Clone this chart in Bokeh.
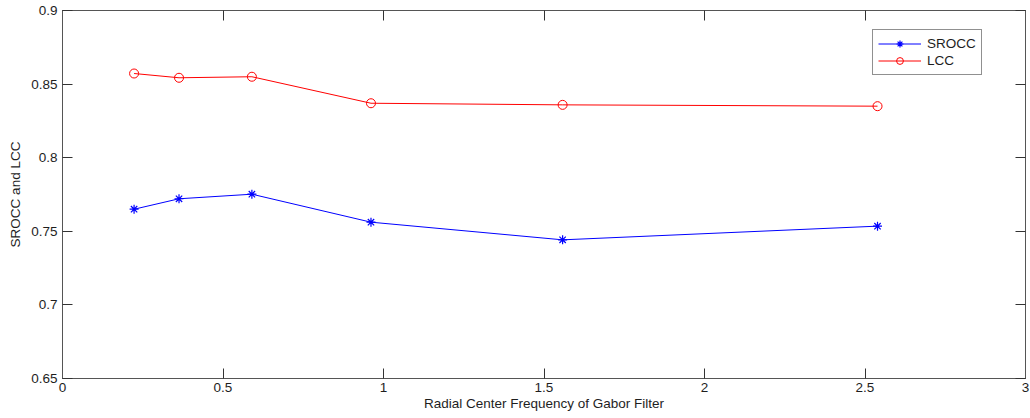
from bokeh.plotting import figure
from bokeh.models import Range1d, LinearAxis, FixedTicker, CustomJSTickFormatter, Legend, LegendItem
from bokeh.embed import file_html
from bokeh.resources import INLINE

# ---- data ----
freq = [0.223, 0.363, 0.590, 0.961, 1.558, 2.539]
srocc = [0.7650, 0.7721, 0.7752, 0.7562, 0.7442, 0.7535]
lcc = [0.8572, 0.8543, 0.8550, 0.8370, 0.8359, 0.8350]

x_ticks = [0, 0.5, 1, 1.5, 2, 2.5, 3]
x_tick_labels = ["0", "0.5", "1", "1.5", "2", "2.5", "3"]
y_ticks = [0.65, 0.7, 0.75, 0.8, 0.85, 0.9]
y_tick_labels = ["0.65", "0.7", "0.75", "0.8", "0.85", "0.9"]

FONT = "Liberation Sans"
FS = "13.5px"
TXT = "#1e1e1e"
AX = "#555555"

p = figure(width=1030, height=418, output_backend="svg", toolbar_location=None,
           x_range=Range1d(0, 3), y_range=Range1d(0.65, 0.9),
           min_border_left=62, min_border_right=5, min_border_top=10, min_border_bottom=40,
           background_fill_color="white", border_fill_color="white")
p.grid.visible = False
p.outline_line_color = AX
p.outline_line_width = 1


def style_axis(ax, labels=True):
    ax.major_tick_in = 10
    ax.major_tick_out = 0
    ax.minor_tick_line_color = None
    ax.axis_line_color = AX
    ax.major_tick_line_color = "#333333"
    ax.major_label_text_font = FONT
    ax.major_label_text_font_size = FS
    ax.major_label_text_color = TXT
    ax.axis_label_text_font = FONT
    ax.axis_label_text_font_size = FS
    ax.axis_label_text_font_style = "normal"
    ax.axis_label_text_color = TXT
    if not labels:
        ax.formatter = CustomJSTickFormatter(code="return ''")
        ax.major_label_standoff = 0


xa = p.xaxis[0]
xa.ticker = FixedTicker(ticks=x_ticks)
xa.major_label_overrides = {t: s for t, s in zip(x_ticks, x_tick_labels)}
xa.axis_label = "Radial Center Frequency of Gabor Filter"
style_axis(xa)
xa.major_label_standoff = 4
xa.axis_label_standoff = 1

ya = p.yaxis[0]
ya.ticker = FixedTicker(ticks=y_ticks)
ya.major_label_overrides = {t: s for t, s in zip(y_ticks, y_tick_labels)}
ya.axis_label = "SROCC and LCC"
style_axis(ya)
ya.major_label_standoff = 5
ya.axis_label_standoff = 5

top_ax = LinearAxis(ticker=FixedTicker(ticks=x_ticks))
style_axis(top_ax, labels=False)
p.add_layout(top_ax, "above")
right_ax = LinearAxis(ticker=FixedTicker(ticks=y_ticks))
style_axis(right_ax, labels=False)
p.add_layout(right_ax, "right")

l1 = p.line(freq, srocc, line_color="#0000ff", line_width=1)
m1 = p.scatter(freq, srocc, marker="asterisk", size=9, line_color="#0000ff", line_width=1.2)
l2 = p.line(freq, lcc, line_color="#ff0000", line_width=1)
m2 = p.scatter(freq, lcc, marker="circle", size=9, line_color="#ff0000",
               fill_color=None, line_width=1)

legend = Legend(items=[LegendItem(label="SROCC", renderers=[l1, m1]),
                       LegendItem(label="LCC", renderers=[l2, m2])],
                location=(810, 303))
legend.padding = 5
legend.margin = 0
legend.spacing = 0
legend.label_height = 17
legend.glyph_height = 17
legend.glyph_width = 43
legend.label_standoff = 6
legend.label_text_font = FONT
legend.label_text_font_size = FS
legend.label_text_color = TXT
legend.border_line_color = "#222222"
legend.border_line_width = 1
legend.background_fill_color = "white"
legend.background_fill_alpha = 1
p.add_layout(legend, "center")

open("out.html", "w").write(file_html(p, INLINE))
